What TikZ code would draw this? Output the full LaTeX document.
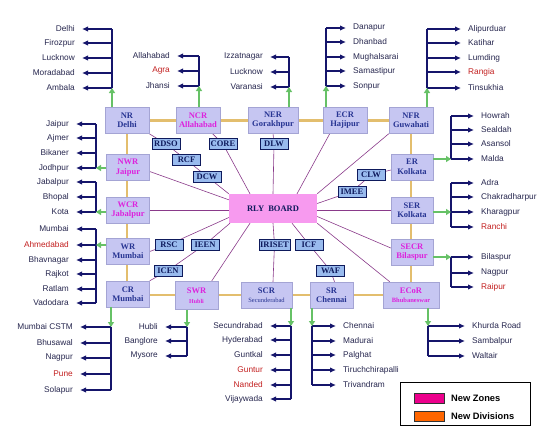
\documentclass[tikz,border=0pt]{standalone}
\usepackage{fontspec}
\setmainfont{Liberation Serif}
\newfontfamily\cityfam{Liberation Sans}
\usetikzlibrary{arrows.meta,backgrounds}

\definecolor{zonefill}{HTML}{C6C6F2}
\definecolor{zonedraw}{HTML}{A4A4D4}
\definecolor{oldz}{HTML}{283593}
\definecolor{newz}{HTML}{DD22DD}
\definecolor{unitfill}{HTML}{99BBEE}
\definecolor{unitdraw}{HTML}{0E1A5C}
\definecolor{boardfill}{HTML}{F79AEF}
\definecolor{ringcol}{HTML}{E3BE6E}
\definecolor{spokecol}{HTML}{8A3A8A}
\definecolor{navyc}{HTML}{15156B}
\definecolor{grncol}{HTML}{66C166}
\definecolor{citytext}{HTML}{26264E}
\definecolor{redc}{HTML}{C21E1E}
\definecolor{orangec}{HTML}{FF6600}

\newcommand{\citygroupleft}[4]{%
  \foreach \cname/\cy/\ccol [count=\cidx] in {#4}{%
    \node[city, text=\ccol, anchor=east] (#1\cidx) at (#3,\cy) {\cname};
    \draw[carr] (#2 |- #1\cidx.east) -- (#1\cidx.east);
  }%
}
\newcommand{\citygroupright}[4]{%
  \foreach \cname/\cy/\ccol [count=\cidx] in {#4}{%
    \node[city, text=\ccol, anchor=west] (#1\cidx) at (#3,\cy) {\cname};
    \draw[carr] (#2 |- #1\cidx.west) -- (#1\cidx.west);
  }%
}

\begin{document}
\begin{tikzpicture}[x=1pt,y=-1pt,
  zonebox/.style={draw=zonedraw, fill=zonefill, minimum width=43pt, minimum height=26pt,
    inner sep=0pt, align=center, text=oldz, font={\fontsize{8.5}{9.5}\selectfont\bfseries}},
  newzonebox/.style={zonebox, text=newz},
  unitbox/.style={draw=unitdraw, line width=1pt, fill=unitfill, minimum width=28pt,
    minimum height=11pt, inner sep=0.5pt, text=unitdraw, font={\fontsize{8.5}{9}\selectfont\bfseries}},
  boardbox/.style={fill=boardfill, minimum width=88pt, minimum height=29pt, inner sep=0pt,
    text=unitdraw, font={\fontsize{8.5}{9}\selectfont\bfseries}},
  ring/.style={draw=ringcol, line width=2.4pt},
  spoke/.style={draw=spokecol, line width=0.6pt},
  grn/.style={draw=grncol, line width=2pt, -{Triangle[length=5pt,width=6pt]}},
  brk/.style={draw=navyc, line width=1.3pt},
  carr/.style={draw=navyc, line width=1.5pt, -{Latex[length=6pt,width=5.5pt]}},
  city/.style={font={\cityfam\fontsize{8.3}{9}\selectfont}, inner xsep=7pt, inner ysep=1pt},
  swatch/.style={draw=black!80, line width=0.6pt, minimum width=30pt, minimum height=10pt, inner sep=0pt},
  legtext/.style={font={\cityfam\fontsize{9.3}{10}\selectfont\bfseries}, text=black, inner sep=0pt}
]
\useasboundingbox (0,0) rectangle (544,426);

% ---------------- zones ----------------
\node[zonebox, minimum width=44pt] (nr) at (127,120.5) {NR\\Delhi};
\node[newzonebox, minimum width=44pt] (ncr) at (198,120) {NCR\\Allahabad};
\node[zonebox, minimum width=50pt] (ner) at (273,120) {NER\\Gorakhpur};
\node[zonebox, minimum width=44pt] (ecr) at (345,120) {ECR\\Hajipur};
\node[zonebox, minimum width=44pt] (nfr) at (411,120.5) {NFR\\Guwahati};
\node[zonebox, minimum width=42pt] (er) at (412,167) {ER\\Kolkata};
\node[zonebox, minimum width=42pt] (ser) at (412,210) {SER\\Kolkata};
\node[newzonebox, minimum width=42pt] (secr) at (412,252) {SECR\\Bilaspur};
\node[newzonebox, minimum width=56pt] (ecor) at (411,295) {ECoR\\{\fontsize{6.5}{8}\selectfont Bhubaneswar}};
\node[zonebox] (sr) at (331.5,295) {SR\\Chennai};
\node[zonebox, minimum width=51pt] (scr) at (266.5,295) {SCR\\{\fontsize{6.5}{8}\selectfont\mdseries Secunderabad}};
\node[newzonebox, minimum height=28pt] (swr) at (196.5,295.5) {SWR\\{\fontsize{6}{8}\selectfont Hubli}};
\node[zonebox] (cr) at (128,294) {CR\\Mumbai};
\node[zonebox] (wr) at (128,251.5) {WR\\Mumbai};
\node[newzonebox] (wcr) at (128,210) {WCR\\Jabalpur};
\node[newzonebox] (nwr) at (128,167.5) {NWR\\Jaipur};

% ---------------- board and units ----------------
\node[boardbox] (rb) at (273,208.5) {RLY\hspace{2pt} BOARD};
\node[unitbox] (rdso) at (166,144) {RDSO};
\node[unitbox] (core) at (223,144) {CORE};
\node[unitbox] (dlw) at (274,144) {DLW};
\node[unitbox] (rcf) at (186.5,160) {RCF};
\node[unitbox] (dcw) at (207,176.5) {DCW};
\node[unitbox] (clw) at (371,175) {CLW};
\node[unitbox] (imee) at (352,191.5) {IMEE};
\node[unitbox] (rsc) at (169,244.5) {RSC};
\node[unitbox] (ieen) at (205,244.5) {IEEN};
\node[unitbox, minimum width=31pt] (iriset) at (274.5,244.5) {IRISET};
\node[unitbox] (icf) at (309,244.5) {ICF};
\node[unitbox] (icen) at (168,270.5) {ICEN};
\node[unitbox] (waf) at (330.5,270.5) {WAF};

% ---------------- ring and spokes (behind) ----------------
\begin{scope}[on background layer]
\draw[ring] (nr.center) rectangle (ecor.center);
\draw[spoke] (nr.south east) -- (rdso.center) -- (rcf.center) -- (dcw.center) -- (rb.north west);
\draw[spoke] ([xshift=14pt]ncr.south) -- (core.center) -- ([xshift=-23pt]rb.north);
\draw[spoke] (ner.south) -- (dlw.center) -- (rb.north);
\draw[spoke] ([xshift=-15pt]ecr.south) -- ([xshift=24pt]rb.north);
\draw[spoke] (nfr.south west) -- (rb.north east);
\draw[spoke] ([yshift=-3pt]er.west) -- (clw.center) -- (imee.center) -- ([yshift=5pt]rb.east);
\draw[spoke] (ser.west -| rb.east) -- (ser.west);
\draw[spoke] ([yshift=-8pt]rb.east) -- ([yshift=4pt]secr.west);
\draw[spoke] (rb.south east) -- ([xshift=7pt]ecor.north west);
\draw[spoke] ([xshift=19pt]rb.south) -- (icf.center) -- (waf.center) -- ([xshift=3pt]sr.north);
\draw[spoke] (rb.south) -- (iriset.center) -- (rb.south |- scr.north);
\draw[spoke] ([xshift=-23pt]rb.south) -- ([xshift=15pt]swr.north);
\draw[spoke] ([xshift=-43pt]rb.south) -- (ieen.center) -- (icen.center) -- (cr.north east);
\draw[spoke] ([yshift=-9pt]rb.west) -- (rsc.center) -- (wr.east);
\draw[spoke] (wcr.east) -- (wcr.east -| rb.west);
\draw[spoke] ([yshift=-4pt]nwr.east) -- ([yshift=-6pt]rb.north west);
\end{scope}

% ---------------- city groups: top ----------------
\coordinate (nrbt) at (112,29); \coordinate (nrbb) at (112,88);
\citygroupleft{nrc}{nrbt}{82}{Delhi/29/citytext, Firozpur/43/citytext, Lucknow/58/citytext, Moradabad/73/citytext, Ambala/88/citytext}
\draw[brk] (nrbt) -- (nrbb);
\draw[grn] (nr.north -| nrbb) -- (nrbb);

\coordinate (ncrbt) at (199,56); \coordinate (ncrbb) at (199,86);
\citygroupleft{ncrc}{ncrbt}{177}{Allahabad/56/citytext, Agra/71/redc, Jhansi/86/citytext}
\draw[brk] (ncrbt) -- (ncrbb);
\draw[grn] (ncr.north -| ncrbb) -- (ncrbb);

\coordinate (nerbt) at (289,57); \coordinate (nerbb) at (289,87);
\citygroupleft{nerc}{nerbt}{270}{Izzatnagar/57/citytext, Lucknow/72/citytext, Varanasi/87/citytext}
\draw[brk] (nerbt) -- (nerbb);
\draw[grn] (ner.north -| nerbb) -- (nerbb);

\coordinate (ecrbt) at (326,28); \coordinate (ecrbb) at (326,86);
\citygroupright{ecrc}{ecrbt}{346}{Danapur/28/citytext, Dhanbad/42/citytext, Mughalsarai/57/citytext, Samastipur/71/citytext, Sonpur/86/citytext}
\draw[brk] (ecrbt) -- (ecrbb);
\draw[grn] (ecr.north -| ecrbb) -- (ecrbb);

\coordinate (nfrbt) at (427,29); \coordinate (nfrbb) at (427,88);
\citygroupright{nfrc}{nfrbt}{461}{Alipurduar/29/citytext, Katihar/43/citytext, Lumding/58/citytext, Rangia/72/redc, Tinsukhia/88/citytext}
\draw[brk] (nfrbt) -- (nfrbb);
\draw[grn] (nfr.north -| nfrbb) -- (nfrbb);

% ---------------- city groups: right ----------------
\coordinate (erbt) at (451,116); \coordinate (erbb) at (451,159);
\citygroupright{erc}{erbt}{474}{Howrah/116/citytext, Sealdah/130/citytext, Asansol/144/citytext, Malda/159/citytext}
\draw[brk] (erbt) -- (erbb);
\draw[grn] (er.east |- erbb) -- (erbb);

\coordinate (serbt) at (451,183); \coordinate (serbb) at (451,227); \coordinate (serg) at (451,212);
\citygroupright{serc}{serbt}{474}{Adra/183/citytext, Chakradharpur/197/citytext, Kharagpur/212/citytext, Ranchi/227/redc}
\draw[brk] (serbt) -- (serbb);
\draw[grn] (ser.east |- serg) -- (serg);

\coordinate (secrbt) at (451,257); \coordinate (secrbb) at (451,287);
\citygroupright{secrc}{secrbt}{474}{Bilaspur/257/citytext, Nagpur/273/citytext, Raipur/287/redc}
\draw[brk] (secrbt) -- (secrbb);
\draw[grn] (secr.east |- secrbt) -- (secrbt);

% ---------------- city groups: bottom ----------------
\coordinate (ecorbt) at (428,326); \coordinate (ecorbb) at (428,356);
\citygroupright{ecorc}{ecorbt}{465}{Khurda Road/326/citytext, Sambalpur/341/citytext, Waltair/356/citytext}
\draw[brk] (ecorbt) -- (ecorbb);
\draw[grn] (ecor.south -| ecorbt) -- (ecorbt);

\coordinate (srbt) at (312,326); \coordinate (srbb) at (312,385);
\citygroupright{src}{srbt}{336}{Chennai/326/citytext, Madurai/341/citytext, Palghat/355/citytext, Tiruchchirapalli/370/citytext, Trivandram/385/citytext}
\draw[brk] (srbt) -- (srbb);
\draw[grn] (sr.south -| srbt) -- (srbt);

\coordinate (scrbt) at (291,326); \coordinate (scrbb) at (291,399);
\citygroupleft{scrc}{scrbt}{270}{Secundrabad/326/citytext, Hyderabad/340/citytext, Guntkal/355/citytext, Guntur/370/redc, Nanded/385/redc, Vijaywada/399/citytext}
\draw[brk] (scrbt) -- (scrbb);
\draw[grn] (scr.south -| scrbt) -- (scrbt);

\coordinate (swrbt) at (187,327); \coordinate (swrbb) at (187,356);
\citygroupleft{swrc}{swrbt}{165}{Hubli/327/citytext, Banglore/341/citytext, Mysore/356/citytext}
\draw[brk] (swrbt) -- (swrbb);
\draw[grn] (swr.south -| swrbt) -- (swrbt);

\coordinate (crbt) at (111,327); \coordinate (crbb) at (111,390);
\citygroupleft{crc}{crbt}{80}{Mumbai CSTM/327/citytext, Bhusawal/343/citytext, Nagpur/358/citytext, Pune/374/redc, Solapur/390/citytext}
\draw[brk] (crbt) -- (crbb);
\draw[grn] (cr.south -| crbt) -- (crbt);

% ---------------- city groups: left ----------------
\coordinate (nwrbt) at (96,124); \coordinate (nwrbb) at (96,168);
\citygroupleft{nwrc}{nwrbt}{76}{Jaipur/124/citytext, Ajmer/138/citytext, Bikaner/153/citytext, Jodhpur/168/citytext}
\draw[brk] (nwrbt) -- (nwrbb);
\draw[grn] (nwr.west |- nwrbb) -- (nwrbb);

\coordinate (wcrbt) at (96,182); \coordinate (wcrbb) at (96,212);
\citygroupleft{wcrc}{wcrbt}{76}{Jabalpur/182/citytext, Bhopal/197/citytext, Kota/212/citytext}
\draw[brk] (wcrbt) -- (wcrbb);
\draw[grn] (wcr.west |- wcrbb) -- (wcrbb);

\coordinate (wrbt) at (96,229); \coordinate (wrbb) at (96,303); \coordinate (wrg) at (96,245);
\citygroupleft{wrc}{wrbt}{76}{Mumbai/229/citytext, Ahmedabad/245/redc, Bhavnagar/260/citytext, Rajkot/274/citytext, Ratlam/289/citytext, Vadodara/303/citytext}
\draw[brk] (wrbt) -- (wrbb);
\draw[grn] (wr.west |- wrg) -- (wrg);

% ---------------- legend ----------------
\node[draw=black, line width=0.8pt, minimum width=130pt, minimum height=43pt, inner sep=0pt, anchor=north west] (legend) at (400,382) {};
\node[swatch, fill=magenta] (swz) at (429,398) {};
\node[legtext, anchor=west] (lzt) at (451,398) {New Zones};
\node[swatch, fill=orangec] (swd) at (429,416) {};
\node[legtext, anchor=west] (ldt) at (451,416) {New Divisions};
\end{tikzpicture}
\end{document}
